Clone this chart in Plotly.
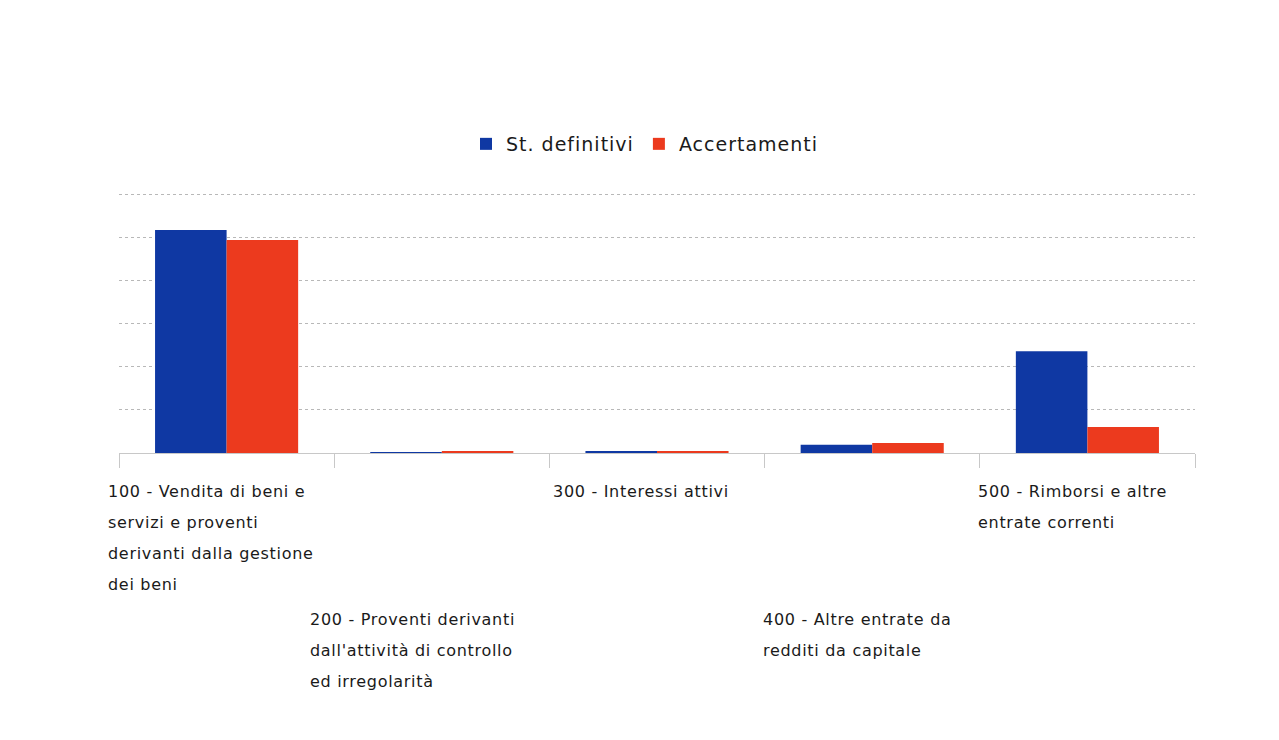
import plotly.graph_objects as go

categories = ["100", "200", "300", "400", "500"]
label_lines = [
    ["100 - Vendita di beni e", "servizi e proventi", "derivanti dalla gestione", "dei beni"],
    ["200 - Proventi derivanti", "dall'attività di controllo", "ed irregolarità"],
    ["300 - Interessi attivi"],
    ["400 - Altre entrate da", "redditi da capitale"],
    ["500 - Rimborsi e altre", "entrate correnti"],
]
series_names = ["St. definitivi", "Accertamenti"]
st_definitivi = [5.17, 0.02, 0.03, 0.19, 2.36]
accertamenti = [4.94, 0.03, 0.03, 0.23, 0.60]

OFF = 8  # page body margin
W, H = 1279 - 2 * OFF, 740 - 2 * OFF
base_y = 453 - OFF
ymax = 6.05
unit = 259 / 6
plot_h = unit * ymax
L, R = 119 - OFF, W - (1195 - OFF)
T, B = base_y - plot_h, H - base_y


def spaced(t, ls):
    return f'<span style="letter-spacing:{ls}px">{t}</span>'


fig = go.Figure()
fig.add_trace(go.Bar(name=spaced(series_names[0], 1.0), x=categories, y=st_definitivi,
                     marker=dict(color="#0f38a3", line=dict(width=0))))
fig.add_trace(go.Bar(name=spaced(series_names[1], 1.0), x=categories, y=accertamenti,
                     marker=dict(color="#ec3a1e", line=dict(width=0))))

# label block left offsets (px from category centre) and row placement
left_offsets = [-120.5, -133.5, -106, -111, -111]
row_top_px = [480, 608, 480, 608, 480]
line_gap = 31
annotations = []
for i, lines in enumerate(label_lines):
    for j, line in enumerate(lines):
        top = row_top_px[i] - OFF + j * line_gap
        annotations.append(dict(
            x=i, xref="x", xanchor="left", xshift=left_offsets[i],
            y=-(top - base_y) / plot_h, yref="paper", yanchor="top",
            text=spaced(line, 0.7), showarrow=False, align="left",
            font=dict(family="DejaVu Sans", size=16, color="#1a1a1a"),
        ))

fig.update_layout(
    width=W, height=H,
    margin=dict(l=L, r=R, t=T, b=B, pad=0),
    paper_bgcolor="white", plot_bgcolor="white",
    barmode="group", bargap=0.335, bargroupgap=0,
    showlegend=True,
    legend=dict(orientation="h", xref="container", yref="container",
                x=(645 - OFF) / W, xanchor="center", y=1 - (144 - OFF) / H, yanchor="middle",
                font=dict(family="DejaVu Sans", size=19, color="#1a1a1a"),
                itemwidth=30, traceorder="normal"),
    xaxis=dict(type="category", showticklabels=False, ticks="outside", tickson="boundaries",
               ticklen=14, tickcolor="#c8c8c8", showline=True, linecolor="#c8c8c8",
               showgrid=False, range=[-0.5, 4.5]),
    yaxis=dict(range=[0, ymax], dtick=1, showticklabels=False, showgrid=True,
               gridcolor="#b8b8b8", griddash="dot", gridwidth=1,
               zeroline=False, showline=False),
    annotations=annotations,
    font=dict(family="DejaVu Sans"),
)

fig.write_html("out.html")
